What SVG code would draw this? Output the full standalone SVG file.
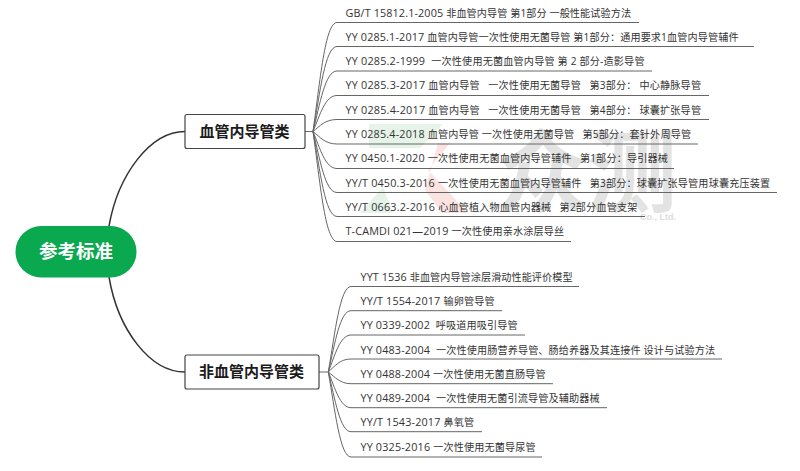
<svg xmlns="http://www.w3.org/2000/svg" width="800" height="471" viewBox="0 0 800 471">
<style>
.t{font-family:"Open Sans","Noto Sans CJK SC",sans-serif;font-size:10.1px;fill:#333;white-space:pre}
.e{font-size:10.8px}
.b{font-family:"Noto Sans CJK SC",sans-serif;font-size:15px;font-weight:700;fill:#1c1c1c;text-anchor:middle}
.l{fill:none;stroke:#666;stroke-width:1}
.m{fill:none;stroke:#333;stroke-width:1.5}
.n{fill:#fff;stroke:#444;stroke-width:1.2}
</style>
<rect width="800" height="471" fill="#fff"/>
<g id="watermark">
<path d="M369 124H443L420 148H369Z" fill="#e6f3e9"/>
<path d="M438 143H450L428 170L468 213H442L425 190Z" fill="#fae3e1"/>
<path d="M383 187L393 213H360Z" fill="#e6f3e9"/>
<text x="497" y="205" font-family="'Noto Sans CJK SC',sans-serif" font-size="90" font-weight="700" fill="#e3e3e3">众测</text>
<text x="676" y="220" text-anchor="end" font-family="'Liberation Sans',sans-serif" font-size="9" font-weight="700" fill="#ddd">Co., Ltd.</text>
</g>
<g id="connectors">
<path class="m" d="M109 226C118 175 150 131.500 185 131.500"/>
<path class="m" d="M109 277C118 330 150 372 185 372"/>
<path class="l" d="M305 131.500H313"/>
<path class="l" d="M319 372H328.300"/>
<path class="l" d="M313 131.500C320 82 325 22.500 337 22.500H639"/>
<path class="l" d="M313 131.500C320 93 325 46.500 337 46.500H754"/>
<path class="l" d="M313 131.500C320 104 325 71 337 71H652"/>
<path class="l" d="M313 131.500C320 115 325 95.500 337 95.500H709"/>
<path class="l" d="M313 131.500C320 126 325 119.500 337 119.500H709"/>
<path class="l" d="M313 131.500C320 137 325 144 337 144H698"/>
<path class="l" d="M313 131.500C320 148 325 168.500 337 168.500H674"/>
<path class="l" d="M313 131.500C320 159 325 192.500 337 192.500H777"/>
<path class="l" d="M313 131.500C320 170 325 216.500 337 216.500H645"/>
<path class="l" d="M313 131.500C320 181 325 241.500 337 241.500H571"/>
<path class="l" d="M328.300 372C335 333 340 286.500 351 286.500H579"/>
<path class="l" d="M328.300 372C335 343 340 310.700 351 310.700H502"/>
<path class="l" d="M328.300 372C335 355 340 335 351 335H525"/>
<path class="l" d="M328.300 372C335 366 340 359 351 359H722"/>
<path class="l" d="M328.300 372C335 377 340 383.700 351 383.700H553"/>
<path class="l" d="M328.300 372C335 388 340 407.700 351 407.700H607"/>
<path class="l" d="M328.300 372C335 399 340 431.700 351 431.700H482"/>
<path class="l" d="M328.300 372C335 410 340 457 351 457H542"/>
</g>
<g id="root"><rect x="15.500" y="226" width="121" height="51.500" rx="25.700" fill="#0aa84f"/><text x="76" y="258" text-anchor="middle" font-family="'Noto Sans CJK SC',sans-serif" font-size="18.500" font-weight="700" fill="#fff">参考标准</text></g>
<g id="node-a"><rect class="n" x="185" y="114.500" width="120" height="34" rx="2"/><text class="b" x="244.500" y="137">血管内导管类</text></g>
<g id="node-b"><rect class="n" x="185" y="355" width="134" height="34" rx="2"/><text class="b" x="251.500" y="377">非血管内导管类</text></g>
<g id="items-a">
<text class="t" x="345.500" y="17" textLength="285.500"><tspan class="e">GB/T 15812.1-2005 </tspan>非血管内导管 第1部分 一般性能试验方法</text>
<text class="t" x="345.500" y="41" textLength="393"><tspan class="e">YY 0285.1-2017 </tspan>血管内导管一次性使用无菌导管 第1部分：通用要求1血管内导管辅件</text>
<text class="t" x="345.500" y="65" textLength="299"><tspan class="e">YY 0285.2-1999  </tspan>一次性使用无菌血管内导管 第 2 部分-造影导管</text>
<text class="t" x="345.500" y="89" textLength="355.500"><tspan class="e">YY 0285.3-2017 </tspan>血管内导管   一次性使用无菌导管   第3部分： 中心静脉导管</text>
<text class="t" x="345.500" y="114" textLength="355.500"><tspan class="e">YY 0285.4-2017 </tspan>血管内导管   一次性使用无菌导管   第4部分： 球囊扩张导管</text>
<text class="t" x="345.500" y="138" textLength="345.500"><tspan class="e">YY 0285.4-2018 </tspan>血管内导管 一次性使用无菌导管   第5部分：套针外周导管</text>
<text class="t" x="345.500" y="162" textLength="322.300"><tspan class="e">YY 0450.1-2020 </tspan>一次性使用无菌血管内导管辅件   第1部分：导引器械</text>
<text class="t" x="345.500" y="187" textLength="424.500"><tspan class="e">YY/T 0450.3-2016 </tspan>一次性使用无菌血管内导管辅件   第3部分：球囊扩张导管用球囊充压装置</text>
<text class="t" x="345.500" y="211" textLength="291.800"><tspan class="e">YY/T 0663.2-2016 </tspan>心血管植入物血管内器械   第2部分血管支架</text>
<text class="t" x="345.500" y="235" textLength="218.500"><tspan class="e">T-CAMDI 021—2019 </tspan>一次性使用亲水涂层导丝</text>
</g>
<g id="items-b">
<text class="t" x="360.500" y="281" textLength="212"><tspan class="e">YYT 1536 </tspan>非血管内导管涂层滑动性能评价模型</text>
<text class="t" x="360.500" y="305" textLength="134"><tspan class="e">YY/T 1554-2017 </tspan>输卵管导管</text>
<text class="t" x="360.500" y="329" textLength="157"><tspan class="e">YY 0339-2002  </tspan>呼吸道用吸引导管</text>
<text class="t" x="360.500" y="354" textLength="354.500"><tspan class="e">YY 0483-2004  </tspan>一次性使用肠营养导管、肠给养器及其连接件 设计与试验方法</text>
<text class="t" x="360.500" y="378" textLength="185"><tspan class="e">YY 0488-2004 </tspan>一次性使用无菌直肠导管</text>
<text class="t" x="360.500" y="402" textLength="239"><tspan class="e">YY 0489-2004  </tspan>一次性使用无菌引流导管及辅助器械</text>
<text class="t" x="360.500" y="426" textLength="113.600"><tspan class="e">YY/T 1543-2017 </tspan>鼻氧管</text>
<text class="t" x="360.500" y="451" textLength="175"><tspan class="e">YY 0325-2016 </tspan>一次性使用无菌导尿管</text>
</g>
</svg>
